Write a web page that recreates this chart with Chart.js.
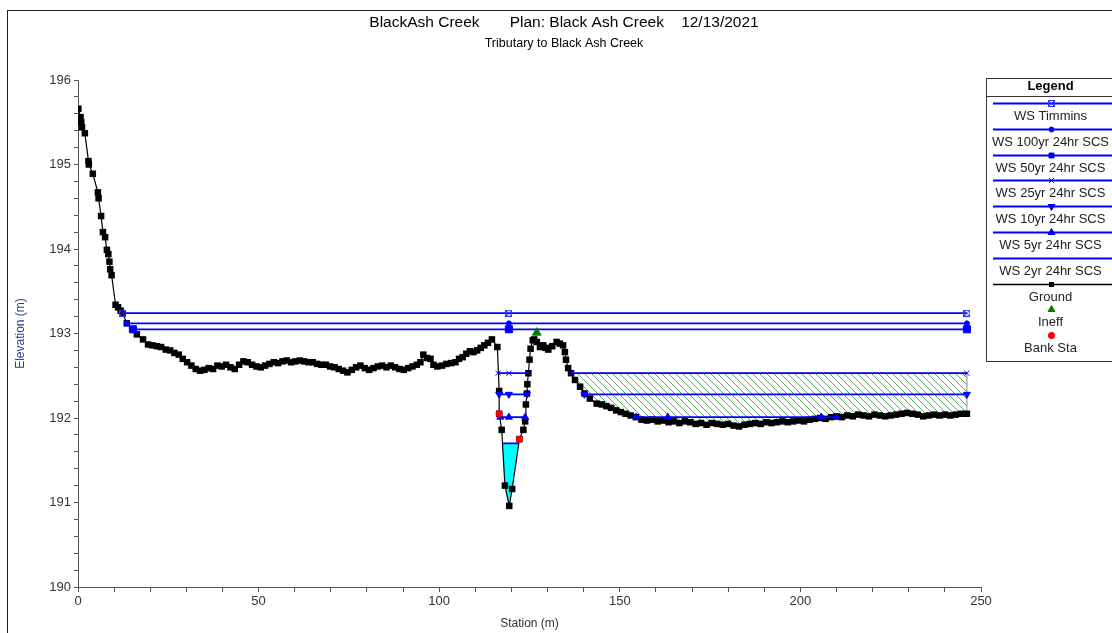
<!DOCTYPE html>
<html>
<head>
<meta charset="utf-8">
<title>BlackAsh Creek - cross section</title>
<script src="https://cdn.jsdelivr.net/npm/chart.js@4.4.0/dist/chart.umd.min.js"></script>
<style>
    html, body { margin: 0; padding: 0; background: #fff; overflow: hidden; }
    body { width: 1112px; height: 633px; position: relative; }
    #frame { position: absolute; left: 7px; top: 10px; width: 1200px; height: 700px;
             border-left: 1px solid #222; border-top: 1px solid #222; }
    #plot { position: absolute; left: 8px; top: 0; }
</style>
</head>
<body>
<div id="frame"></div>
<canvas id="plot" width="1112" height="633"></canvas>
<script>
// ======= Datos =======
const groundStation = [
    0.1, 0.7, 0.9, 1.1, 1.9, 2.9, 3.0, 4.1, 5.5, 5.7, 6.4, 6.9, 7.5, 8.0, 8.4, 8.7, 8.9, 9.3,
    10.4, 11.1, 11.8, 12.4, 13.5, 15.2, 16.3, 18.0, 19.4, 20.6, 21.8, 23.0, 24.3, 25.5, 26.7, 27.9,
    29.0, 30.2, 31.4, 32.6, 33.8, 35.0, 36.2, 37.4, 38.6, 39.8, 41.0, 42.2, 43.4, 44.6, 45.8, 47.0,
    48.2, 49.4, 50.6, 51.8, 53.0, 54.2, 55.4, 56.6, 57.8, 59.0, 60.2, 61.4, 62.6, 63.8, 65.0, 66.2,
    67.4, 68.6, 69.8, 71.0, 72.2, 73.4, 74.6, 75.8, 77.0, 78.2, 79.4, 80.6, 81.8, 83.0, 84.2, 85.4,
    86.6, 87.8, 89.0, 90.2, 91.4, 92.6, 93.8, 94.8, 95.6, 96.6, 97.6, 98.4, 99.5, 100.8, 102.0, 103.3,
    104.5, 105.5, 106.5, 107.5, 108.5, 109.5, 110.5, 111.5, 112.5, 113.5, 114.6, 116.1, 116.6, 116.6,
    117.3, 118.2, 119.4, 120.2, 122.2, 123.3, 123.8, 124.0, 124.3, 124.4, 124.7, 125.0, 125.3, 125.9,
    126.3, 127.0, 127.9, 128.8, 129.5, 130.2, 131.3, 132.5, 133.4, 134.3, 134.8, 135.1, 135.7, 136.5,
    137.6, 139.0, 140.2, 141.7, 143.6, 145.0, 146.3, 147.6, 149.0, 150.3, 151.6, 153.0, 154.5, 156.0,
    157.5, 159.0, 160.5, 162.0, 163.5, 165.0, 166.5, 168.0, 169.5, 171.0, 172.5, 174.0, 175.5, 177.0,
    178.5, 180.0, 181.5, 183.0, 184.5, 186.0, 187.5, 189.0, 190.5, 192.0, 193.5, 195.0, 196.5, 198.0,
    199.5, 201.0, 202.5, 204.0, 205.5, 207.0, 208.5, 210.0, 211.5, 213.0, 214.5, 216.0, 217.5, 219.0,
    220.5, 222.0, 223.5, 225.0, 226.5, 228.0, 229.5, 231.0, 232.5, 234.0, 235.5, 237.0, 238.5, 240.0,
    241.5, 243.0, 244.5, 246.1
];
const groundElev = [
    195.66, 195.56, 195.50, 195.44, 195.37, 195.04, 195.00, 194.89, 194.67, 194.60, 194.39, 194.20, 194.14, 193.99, 193.94, 193.85, 193.76, 193.69,
    193.34, 193.31, 193.27, 193.24, 193.12, 193.05, 192.99, 192.93, 192.87, 192.86, 192.85, 192.84, 192.81, 192.80, 192.77, 192.75,
    192.70, 192.66, 192.62, 192.58, 192.56, 192.57, 192.59, 192.58, 192.62, 192.61, 192.63, 192.60, 192.58, 192.63, 192.67, 192.66,
    192.63, 192.61, 192.60, 192.62, 192.64, 192.66, 192.65, 192.67, 192.68, 192.66, 192.67, 192.68, 192.67, 192.66, 192.66, 192.64,
    192.63, 192.63, 192.61, 192.60, 192.58, 192.56, 192.54, 192.57, 192.60, 192.62, 192.59, 192.57, 192.59, 192.61, 192.62, 192.60,
    192.62, 192.60, 192.58, 192.57, 192.59, 192.61, 192.63, 192.66, 192.75, 192.71, 192.70, 192.63, 192.61, 192.62, 192.64, 192.65,
    192.66, 192.70, 192.72, 192.76, 192.79, 192.78, 192.80, 192.83, 192.86, 192.89, 192.93, 192.84, 192.32, 192.05,
    191.86, 191.20, 190.96, 191.16, 191.75, 191.86, 191.96, 192.16, 192.29, 192.40, 192.53, 192.69, 192.82, 192.92,
    192.93, 192.90, 192.84, 192.86, 192.83, 192.81, 192.85, 192.90, 192.88, 192.86, 192.78, 192.69, 192.59, 192.53,
    192.45, 192.37, 192.29, 192.23, 192.17, 192.16, 192.14, 192.12, 192.09, 192.07, 192.05, 192.03, 192.01, 191.98,
    191.97, 191.98, 191.96, 191.97, 191.95, 191.96, 191.94, 191.96, 191.95, 191.93, 191.94, 191.92, 191.94, 191.93,
    191.92, 191.93, 191.91, 191.90, 191.92, 191.93, 191.94, 191.93, 191.95, 191.94, 191.95, 191.96, 191.95, 191.96,
    191.97, 191.96, 191.98, 191.99, 192.00, 191.99, 192.01, 192.02, 192.01, 192.03, 192.02, 192.04, 192.03, 192.02,
    192.04, 192.03, 192.02, 192.03, 192.04, 192.05, 192.06, 192.05, 192.04, 192.02, 192.03, 192.04, 192.03, 192.04,
    192.03, 192.04, 192.05, 192.05
];

const profileNames = ['WS Timmins', 'WS 100yr 24hr SCS', 'WS 50yr 24hr SCS', 'WS 25yr 24hr SCS',
                      'WS 10yr 24hr SCS', 'WS 5yr 24hr SCS', 'WS 2yr 24hr SCS'];
const profileElev = [193.24, 193.12, 193.05, 192.53, 192.28, 192.01, 191.70];
// tramos mojados (null = corte)
const profileStations = [
    [12.4, 119.3, 246.1],
    [13.5, 119.3, 246.1],
    [15.2, 119.3, 246.1],
    [116.3, 119.3, 124.7, null, 136.5, 246.1],
    [116.6, 119.3, 124.3, null, 140.2, 246.1],
    [116.9, 119.3, 123.8, null, 154.5, 163.3, 205.8, 210.0],
    [117.5, 122.0]
];

const ineffAreaStations = [136.5, 246.1];
const ineffAreaElev = 192.53;

const ineffStation = [127.0];
const ineffElev = [193.01];
const bankStation = [116.6, 122.2];
const bankElev = [192.05, 191.75];

const xTickLabels = [0, 50, 100, 150, 200, 250];
const yTickLabels = [190, 191, 192, 193, 194, 195, 196];

// ======= Estilos =======
const FONT = '"Liberation Sans", Arial, sans-serif';
Chart.defaults.font.family = FONT;
const BLUE = '#0000ff';

const canvas = document.getElementById('plot');
const ctx = canvas.getContext('2d');

function hatchPattern() {
    const c = document.createElement('canvas');
    c.width = 7; c.height = 7;
    const g = c.getContext('2d');
    g.strokeStyle = '#5aae5a';
    g.lineWidth = 1;
    g.beginPath();
    g.moveTo(0, 0); g.lineTo(7, 7);
    g.moveTo(-1, 6); g.lineTo(1, 8);
    g.moveTo(6, -1); g.lineTo(8, 1);
    g.stroke();
    return ctx.createPattern(c, 'repeat');
}

function boxCross() {
    const c = document.createElement('canvas');
    c.width = 7; c.height = 7;
    const g = c.getContext('2d');
    g.strokeStyle = '#3030ff';
    g.lineWidth = 1;
    g.strokeRect(0.5, 0.5, 6, 6);
    g.beginPath();
    g.moveTo(1, 1); g.lineTo(6, 6);
    g.moveTo(6, 1); g.lineTo(1, 6);
    g.stroke();
    return c;
}

const markerStyles = [
    { pointStyle: boxCross(), pointRadius: 3, pointRotation: 0 },
    { pointStyle: 'circle', pointRadius: 2.5, pointRotation: 0 },
    { pointStyle: 'rect', pointRadius: 5, pointRotation: 0 },
    { pointStyle: 'crossRot', pointRadius: 3.5, pointRotation: 0 },
    { pointStyle: 'triangle', pointRadius: 4, pointRotation: 180 },
    { pointStyle: 'triangle', pointRadius: 4, pointRotation: 0 },
    { pointStyle: 'circle', pointRadius: 0, pointRotation: 0 }
];

// area bajo una cota, siguiendo el terreno
function areaUnder(x0, x1, elev) {
    const pts = [{ x: x0, y: elev }];
    groundStation.forEach((s, i) => {
        if (s > x0 && s <= x1) pts.push({ x: s, y: Math.min(groundElev[i], elev) });
    });
    pts.push({ x: x1, y: elev });
    return pts;
}

function profilePoints(i) {
    let last = 0;
    return profileStations[i].map(s => {
        if (s === null) return { x: last, y: null };
        last = s;
        return { x: s, y: profileElev[i] };
    });
}

const datasets = profileNames.map((name, i) => ({
    label: name,
    inLegend: true,
    data: profilePoints(i),
    borderColor: BLUE,
    borderWidth: 1.8,
    pointBackgroundColor: BLUE,
    pointBorderColor: BLUE,
    pointBorderWidth: 1,
    ...markerStyles[i],
    order: 2
}));

datasets.push({
    label: 'Ground',
    inLegend: true,
    data: groundStation.map((s, i) => ({ x: s, y: groundElev[i] })),
    borderColor: '#000',
    borderWidth: 1.2,
    pointStyle: 'rect',
    pointRadius: 4.6,
    pointRotation: 0,
    pointBackgroundColor: '#000',
    pointBorderColor: '#000',
    pointBorderWidth: 0,
    order: 3
});

datasets.push({
    label: 'Ineff',
    inLegend: true,
    data: ineffStation.map((s, i) => ({ x: s, y: ineffElev[i] })),
    showLine: false,
    borderColor: '#008000',
    pointStyle: 'triangle',
    pointRadius: 5,
    pointRotation: 0,
    pointBackgroundColor: '#008000',
    pointBorderColor: '#008000',
    pointBorderWidth: 1,
    order: 1
});

datasets.push({
    label: 'Bank Sta',
    inLegend: true,
    data: bankStation.map((s, i) => ({ x: s, y: bankElev[i] })),
    showLine: false,
    pointStyle: 'circle',
    pointRadius: 3.5,
    pointRotation: 0,
    pointBackgroundColor: '#ff0000',
    pointBorderColor: '#ff0000',
    pointBorderWidth: 0,
    order: 0
});

// relleno de flujo inefectivo (rayado verde)
datasets.push({
    label: 'ineff area',
    data: areaUnder(ineffAreaStations[0], ineffAreaStations[1], ineffAreaElev),
    borderColor: '#8c8c8c',
    borderWidth: 1,
    pointRadius: 0,
    backgroundColor: hatchPattern(),
    fill: 'shape',
    order: 4
});

// agua del perfil 2yr (cian)
const last = profileStations.length - 1;
datasets.push({
    label: 'water 2yr',
    data: areaUnder(profileStations[last][0], profileStations[last][1], profileElev[last]),
    borderWidth: 0,
    borderColor: 'rgba(0,0,0,0)',
    pointRadius: 0,
    backgroundColor: '#00ffff',
    fill: 'shape',
    order: 4
});

// ======= Leyenda en recuadro =======
const boxLegend = {
    id: 'boxLegend',
    afterDraw(chart) {
        const c = chart.ctx;
        const left = Math.round(chart.chartArea.right) + 5;
        const right = chart.width + 10;
        const top = 78, bottom = 361;
        const cx = left + 64.5;
        c.save();
        c.strokeStyle = '#333';
        c.lineWidth = 1;
        c.strokeRect(left + 0.5, top + 0.5, right - left, bottom - top);
        c.beginPath();
        c.moveTo(left, 96.5);
        c.lineTo(right, 96.5);
        c.stroke();

        c.fillStyle = '#000';
        c.textAlign = 'center';
        c.textBaseline = 'middle';
        c.font = 'bold 13px ' + FONT;
        c.fillText('Legend', cx, 86);

        c.font = '13px ' + FONT;
        chart.data.datasets.filter(d => d.inLegend).forEach((d, i) => {
            const ly = Math.round(103 + i * 25.8) + 0.5;
            if (d.showLine !== false) {
                c.strokeStyle = d.borderColor;
                c.lineWidth = d.borderWidth > 1.5 ? 1.8 : 1.5;
                c.beginPath();
                c.moveTo(left + 7, ly);
                c.lineTo(right, ly);
                c.stroke();
            }
            if (d.pointRadius > 0) {
                c.fillStyle = d.pointBackgroundColor;
                c.strokeStyle = d.pointBorderColor;
                c.lineWidth = 1;
                Chart.helpers.drawPoint(c, {
                    pointStyle: d.pointStyle,
                    radius: d.pointStyle === 'rect' ? 3.5 : Math.min(d.pointRadius, 4),
                    rotation: d.pointRotation || 0,
                    borderWidth: d.pointBorderWidth
                }, cx + 1, ly);
            }
            c.fillStyle = '#222';
            c.fillText(d.label, cx, ly + 12.7);
        });
        c.restore();
    }
};

new Chart(ctx, {
    type: 'line',
    data: { datasets },
    options: {
        responsive: false,
        animation: false,
        devicePixelRatio: 1,
        layout: { padding: 0 },
        plugins: {
            legend: { display: false },
            tooltip: { enabled: false },
            title: {
                display: true,
                text: 'BlackAsh Creek       Plan: Black Ash Creek    12/13/2021',
                color: '#000',
                font: { size: 15.5, weight: 'normal' },
                padding: { top: 13, bottom: 0 }
            },
            subtitle: {
                display: true,
                text: 'Tributary to Black Ash Creek',
                color: '#000',
                font: { size: 12.5 },
                padding: { top: 4, bottom: 29.4 }
            }
        },
        scales: {
            x: {
                type: 'linear',
                min: 0,
                max: 250,
                grid: { drawOnChartArea: false, tickLength: 5, color: '#555' },
                border: { color: '#555', width: 1 },
                ticks: {
                    stepSize: 10,
                    autoSkip: false,
                    maxRotation: 0,
                    padding: 2,
                    color: '#333',
                    font: { size: 13 },
                    callback: v => xTickLabels.includes(v) ? String(v) : ''
                },
                title: {
                    display: true,
                    text: 'Station (m)',
                    color: '#333',
                    font: { size: 12 },
                    padding: { top: 0, bottom: 2 }
                },
                afterFit: s => { s.height = 46; }
            },
            y: {
                type: 'linear',
                position: 'left',
                min: 190,
                max: 196,
                grid: { drawOnChartArea: false, tickLength: 4, color: '#555' },
                border: { color: '#555', width: 1 },
                ticks: {
                    stepSize: 0.2,
                    autoSkip: false,
                    padding: 3,
                    color: '#333',
                    font: { size: 13 },
                    callback: v => {
                        const r = Math.round(v);
                        return Math.abs(v - r) < 1e-6 && yTickLabels.includes(r) ? String(r) : '';
                    }
                },
                title: {
                    display: true,
                    text: 'Elevation (m)',
                    color: '#26408c',
                    font: { size: 12 },
                    padding: { top: 5, bottom: 0 }
                },
                afterFit: s => { s.width = 70; }
            },
            yR: {
                type: 'linear',
                position: 'right',
                grid: { display: false },
                border: { display: false },
                ticks: { display: false },
                afterFit: s => { s.width = 139; }
            }
        }
    },
    plugins: [boxLegend]
});
</script>
</body>
</html>
